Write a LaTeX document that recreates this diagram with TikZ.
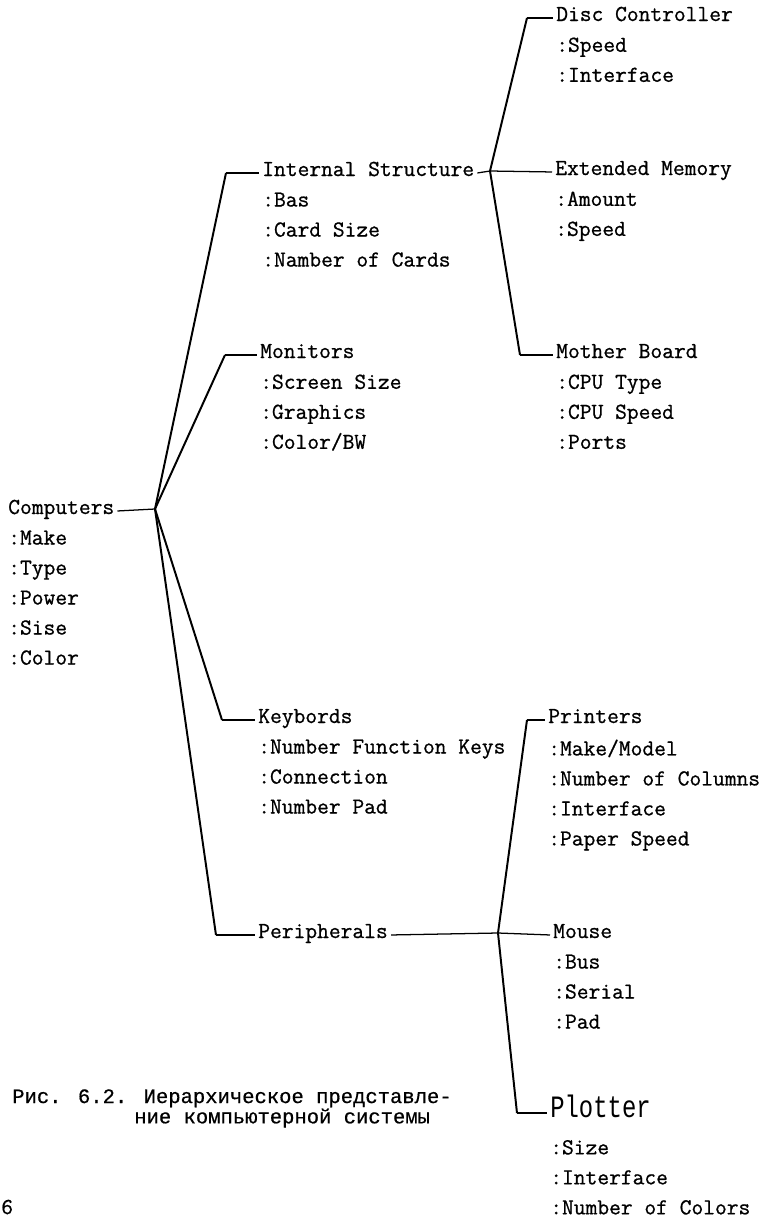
\documentclass[tikz,border=0pt]{standalone}
\usepackage{fontspec}
\newfontfamily\entfont{Latin Modern Mono}[FakeBold=0.8]
\newfontfamily\capfont{Liberation Mono}[FakeBold=0.6]
\newfontfamily\plotfont{Liberation Mono}
\usetikzlibrary{positioning}

\begin{document}
\begin{tikzpicture}[
      x=0.025cm, y=-0.025cm,
      ent/.style={
        anchor=base west,
        inner xsep=0.075cm,
        inner ysep=0pt,
        text height=0.35cm,
        text depth=0.12cm,
        font=\entfont\fontsize{16.25}{21.34}\selectfont
      },
      attr/.style={
        inner xsep=0.075cm,
        inner ysep=0pt,
        align=left,
        font=\entfont\fontsize{16.25}{21.34}\selectfont
      },
      bigent/.style={ent, font=\plotfont\fontsize{17}{17}\selectfont},
      link/.style={line width=1.4pt, line join=round},
      stub/.style={line width=0.9pt},
      caption/.style={anchor=north west, inner sep=0pt, align=left,
        font=\capfont\fontsize{14.6}{12.8}\selectfont}
    ]
      \useasboundingbox (0,0) rectangle (781,1218);

      % root
      \node[ent] (comp) at (5,514) {Computers};
      \node[attr, below right=0.28cm and 0cm of comp.south west] (comp-at)
        {:Make\\:Type\\:Power\\:Sise\\:Color};

      % second level
      \node[ent] (intstr) at (259,176) {Internal Structure};
      \node[attr, below right=0.28cm and 0cm of intstr.south west] (intstr-at)
        {:Bas\\:Card Size\\:Namber of Cards};

      \node[ent] (mon) at (257,358) {Monitors};
      \node[attr, below right=0.28cm and 0cm of mon.south west] (mon-at)
        {:Screen Size\\:Graphics\\:Color/BW};

      \node[ent] (keyb) at (255,723) {Keybords};
      \node[attr, below right=0.28cm and 0cm of keyb.south west] (keyb-at)
        {:Number Function Keys\\:Connection\\:Number Pad};

      \node[ent] (peri) at (255,938) {Peripherals};

      % third level, internal structure
      \node[ent] (disc) at (553,21) {Disc Controller};
      \node[attr, below right=0.28cm and 0cm of disc.south west] (disc-at)
        {:Speed\\:Interface};

      \node[ent] (extmem) at (552,175) {Extended Memory};
      \node[attr, below right=0.28cm and 0cm of extmem.south west] (extmem-at)
        {:Amount\\:Speed};

      \node[ent] (mboard) at (553,358) {Mother Board};
      \node[attr, below right=0.28cm and 0cm of mboard.south west] (mboard-at)
        {:CPU Type\\:CPU Speed\\:Ports};

      % third level, peripherals
      \node[ent] (print) at (545,723) {Printers};
      \node[attr, below right=0.28cm and 0cm of print.south west] (print-at)
        {:Make/Model\\:Number of Columns\\:Interface\\:Paper Speed};

      \node[ent] (mouse) at (550,938) {Mouse};
      \node[attr, below right=0.28cm and 0cm of mouse.south west] (mouse-at)
        {:Bus\\:Serial\\:Pad};

      \node[bigent, yscale=1.3, transform shape] (plot) at (547,1117) {Plotter};
      \node[attr, below right=0.405cm and 0cm of plot.south west] (plot-at)
        {:Size\\:Interface\\:Number of Colors};

      % branch points
      \coordinate (jc) at (155,509);
      \coordinate (ji) at (490,171);
      \coordinate (jp) at (498,933);

      \draw[stub] (comp.mid east) -- (jc);
      \draw[link] (jc) -- ([xshift=-0.825cm]intstr.mid west) edge[stub] (intstr.mid west);
      \draw[link] (jc) -- ([xshift=-0.8cm]mon.mid west) edge[stub] (mon.mid west);
      \draw[link] (jc) -- ([xshift=-0.825cm]keyb.mid west) edge[stub] (keyb.mid west);
      \draw[link] (jc) -- ([xshift=-0.975cm]peri.mid west) edge[stub] (peri.mid west);

      \draw[stub] (intstr.mid east) -- (ji);
      \draw[link] (ji) -- ([xshift=-0.65cm]disc.mid west) edge[stub] (disc.mid west);
      \draw[stub] (ji) -- (extmem.mid west);
      \draw[link] (ji) -- ([xshift=-0.825cm]mboard.mid west) edge[stub] (mboard.mid west);

      \draw[stub] (peri.mid east) -- (jp);
      \draw[link] (jp) -- ([xshift=-0.45cm]print.mid west) edge[stub] (print.mid west);
      \draw[stub] (jp) -- (mouse.mid west);
      \draw[link] (jp) -- ([xshift=-0.75cm]plot.mid west) edge[stub] (plot.mid west);

      % caption and page number
      \node[caption] (cap) at (12,1089)
        {Рис. 6.2. Иерархическое представле-\\\hspace*{3.05cm}ние компьютерной системы};
      \node[ent] (pgno) at (-2,1214) {6};
    \end{tikzpicture}
\end{document}
